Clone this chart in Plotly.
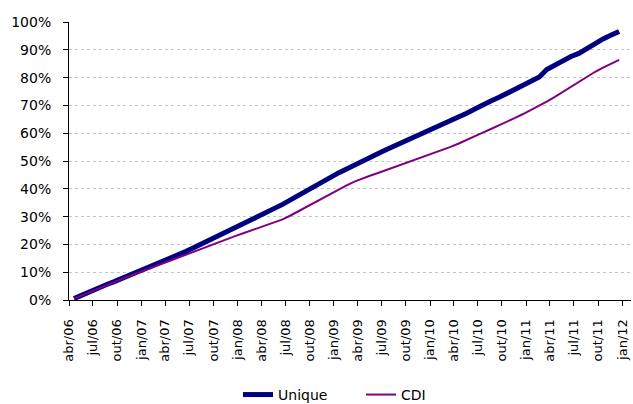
import pandas as pd
import plotly.graph_objects as go

# Monthly observations, abr/06 .. dez/11 (69 months)
start_month = "2006-04-01"
n_months = 69

unique = [0.5, 1.8, 3.0, 4.3, 5.5, 6.6, 7.8, 8.9, 10.0, 11.2,
          12.4, 13.6, 14.9, 16.2, 17.5, 18.9, 20.4, 21.8, 23.2, 24.6,
          26.0, 27.4, 28.8, 30.1, 31.4, 32.8, 34.4, 36.0, 37.7, 39.4,
          41.0, 42.6, 44.2, 45.8, 47.2, 48.6, 50.0, 51.5, 52.8, 54.1,
          55.4, 56.6, 57.9, 59.2, 60.5, 61.7, 63.0, 64.5, 65.8, 67.2,
          68.7, 70.3, 71.6, 72.9, 74.3, 75.7, 77.3, 79.0, 80.2, 82.9,
          84.6, 86.3, 87.6, 88.7, 90.5, 92.4, 93.9, 95.3, 96.6]

cdi = [0.5, 1.7, 2.9, 4.1, 5.3, 6.4, 7.6, 8.7, 9.8, 10.9,
       12.0, 13.1, 14.2, 15.3, 16.4, 17.5, 18.6, 19.7, 20.8, 21.9,
       22.9, 23.9, 24.9, 25.8, 26.8, 27.8, 29.0, 30.4, 32.0, 33.6,
       35.2, 36.8, 38.4, 39.9, 41.3, 42.6, 43.8, 44.8, 45.8, 46.8,
       47.8, 48.8, 50.0, 51.0, 52.0, 53.0, 54.0, 55.1, 56.3, 57.5,
       58.8, 60.2, 61.5, 62.8, 64.0, 65.5, 66.9, 68.4, 69.9, 71.4,
       73.1, 74.9, 76.8, 78.7, 80.5, 82.1, 83.6, 85.0, 86.4]

tick_dates = ["2006-04-01", "2006-07-01", "2006-10-01", "2007-01-01", "2007-04-01",
              "2007-07-01", "2007-10-01", "2008-01-01", "2008-04-01", "2008-07-01",
              "2008-10-01", "2009-01-01", "2009-04-01", "2009-07-01", "2009-10-01",
              "2010-01-01", "2010-04-01", "2010-07-01", "2010-10-01", "2011-01-01",
              "2011-04-01", "2011-07-01", "2011-10-01", "2012-01-01"]
tick_labels = ["abr/06", "jul/06", "out/06", "jan/07", "abr/07", "jul/07", "out/07",
               "jan/08", "abr/08", "jul/08", "out/08", "jan/09", "abr/09", "jul/09",
               "out/09", "jan/10", "abr/10", "jul/10", "out/10", "jan/11", "abr/11",
               "jul/11", "out/11", "jan/12"]

y_ticks = [0, 10, 20, 30, 40, 50, 60, 70, 80, 90, 100]
y_labels = [f"{v}%" for v in y_ticks]

dates = pd.date_range(start_month, periods=n_months, freq="MS") + pd.Timedelta(days=19)

font_family = "DejaVu Sans"

fig = go.Figure()
fig.add_trace(go.Scatter(x=dates, y=unique, mode="lines", name="Unique",
                         line=dict(color="#000080", width=5)))
fig.add_trace(go.Scatter(x=dates, y=cdi, mode="lines", name="CDI",
                         line=dict(color="#800080", width=2)))

fig.update_layout(
    width=633, height=404,
    margin=dict(l=69, r=2, t=22, b=104),
    paper_bgcolor="white", plot_bgcolor="white",
    font=dict(family=font_family, size=13, color="black"),
    showlegend=True,
    legend=dict(orientation="h", xref="container", x=0.376, xanchor="left",
                yref="container", y=0.062, yanchor="top",
                font=dict(size=14), entrywidth=78, entrywidthmode="pixels"),
    xaxis=dict(range=["2006-04-01", "2012-02-03"], tickvals=tick_dates, ticktext=tick_labels,
               tickangle=-90, showgrid=False, showline=True, linecolor="black", linewidth=1,
               ticks="outside", ticklen=5, tickcolor="black", zeroline=False,
               automargin=False, ticklabelstandoff=8, tickfont=dict(size=13)),
    yaxis=dict(range=[0, 100], tickvals=y_ticks, ticktext=y_labels,
               showgrid=True, gridcolor="#c4c4c4", griddash="dot", gridwidth=1,
               showline=True, linecolor="black", linewidth=1,
               ticks="outside", ticklen=5, tickcolor="black", zeroline=False,
               automargin=False, ticklabelstandoff=9, tickfont=dict(size=14)),
)

fig.write_html("out.html", config={"displayModeBar": False},
               post_script="document.body.style.margin = '0px';")
